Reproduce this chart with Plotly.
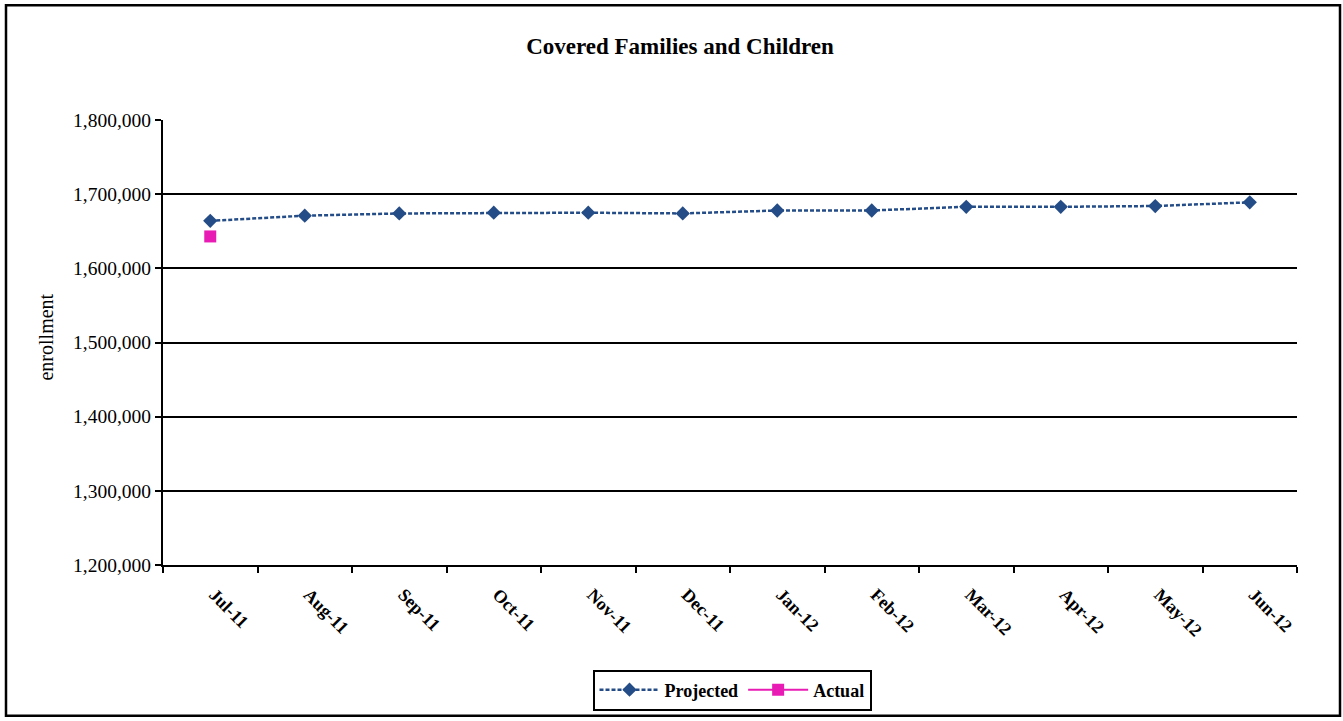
import plotly.graph_objects as go

months = ["Jul-11", "Aug-11", "Sep-11", "Oct-11", "Nov-11", "Dec-11",
          "Jan-12", "Feb-12", "Mar-12", "Apr-12", "May-12", "Jun-12"]
projected = [1664000, 1671000, 1674000, 1675000, 1675000, 1674000,
             1678000, 1678000, 1683000, 1683000, 1684000, 1689000]
actual_months = ["Jul-11"]
actual = [1643000]

y_ticks = [1200000, 1300000, 1400000, 1500000, 1600000, 1700000, 1800000]

FONT = "Liberation Serif"
W, H = 1343, 721
L, R, T, B = 163, 46, 120, 155
pw, ph = W - L - R, H - T - B


def px_x(p):
    return (p - L) / pw


def px_y(p):
    return (H - B - p) / ph


fig = go.Figure()
fig.add_trace(go.Scatter(
    x=months, y=projected, name="Projected", mode="lines+markers",
    line=dict(color="#244C86", width=2.5, dash="4px,2px"),
    marker=dict(symbol="diamond", size=11, color="#244C86"),
))
fig.add_trace(go.Scatter(
    x=actual_months, y=actual, name="Actual", mode="lines+markers",
    line=dict(color="#E81CB4", width=2),
    marker=dict(symbol="square", size=12, color="#E81CB4"),
))

fig.update_layout(
    width=W, height=H,
    margin=dict(l=L, r=R, t=T, b=B),
    paper_bgcolor="white", plot_bgcolor="white",
    font=dict(family=FONT, color="black"),
    showlegend=True,
    title=dict(text="<b>Covered Families and Children</b>",
               font=dict(family=FONT, size=23, color="black"),
               x=680 / W, xanchor="center", y=1 - 46 / H, yanchor="middle"),
    xaxis=dict(
        type="category", categoryorder="array", categoryarray=months,
        range=[-0.5, 11.5], tickson="boundaries",
        ticks="outside", ticklen=6, tickwidth=2, tickcolor="black",
        showline=True, linecolor="black", linewidth=2,
        showgrid=False, tickangle=45,
        ticklabelstandoff=10, ticklabelshift=4,
        tickfont=dict(family=FONT, size=18, color="black", weight="bold"),
    ),
    yaxis=dict(
        range=[1200000, 1800000], tickvals=y_ticks,
        tickformat=",d",
        ticks="outside", ticklen=6, tickwidth=2, tickcolor="black",
        showline=True, linecolor="black", linewidth=2,
        showgrid=True, gridcolor="black", gridwidth=2,
        zeroline=False,
        tickfont=dict(family=FONT, size=19.5, color="black"),
    ),
    legend=dict(
        orientation="h", x=px_x(732), y=px_y(690),
        xanchor="center", yanchor="middle",
        bordercolor="black", borderwidth=2, bgcolor="white",
        font=dict(family=FONT, size=18, color="black", weight="bold"),
        itemwidth=60,
    ),
    annotations=[dict(
        text="enrollment", textangle=-90, showarrow=False,
        xref="paper", yref="paper", x=px_x(46), y=px_y(338),
        xanchor="center", yanchor="middle",
        font=dict(family=FONT, size=20, color="black"),
    )],
    shapes=[dict(
        type="rect", xref="paper", yref="paper",
        x0=px_x(6), x1=px_x(1340), y0=px_y(717), y1=px_y(5),
        line=dict(color="black", width=2.5), layer="below",
    )],
)

fig.write_html("out.html")
